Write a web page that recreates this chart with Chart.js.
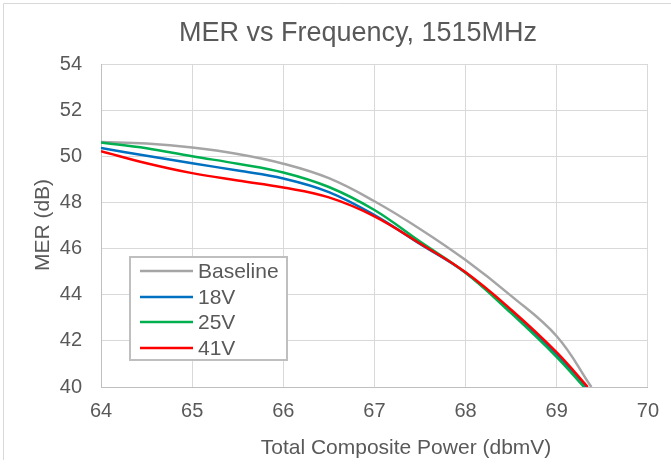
<!DOCTYPE html>
<html>
<head>
<meta charset="utf-8">
<script src="https://cdn.jsdelivr.net/npm/chart.js@4.4.1/dist/chart.umd.min.js"></script>
<style>
  html, body { margin: 0; padding: 0; background: #fff; }
  #wrap { width: 671px; height: 464px; position: relative; }
</style>
</head>
<body>
<div id="wrap"><canvas id="merChart"></canvas></div>
<script>
// Series
const seriesLabels = ['Baseline', '18V', '25V', '41V'];
const seriesColors = ['#A5A5A5', '#0070C0', '#00B050', '#FF0000'];

const baselineX = [64, 64.5, 65, 65.5, 66, 66.5, 67, 67.5, 68, 68.5, 69, 69.38];
const baselineY = [50.62, 50.55, 50.38, 50.1, 49.68, 49.05, 48.05, 46.85, 45.5, 43.95, 42.2, 40];

const v18X = [64, 64.5, 65, 65.5, 66, 66.5, 67, 67.5, 68, 68.5, 69, 69.32];
const v18Y = [50.36, 50.02, 49.7, 49.38, 49.04, 48.45, 47.45, 46.2, 44.95, 43.25, 41.4, 40];

const v25X = [64, 64.5, 65, 65.5, 66, 66.5, 67, 67.5, 68, 68.5, 69, 69.3];
const v25Y = [50.6, 50.35, 50.0, 49.68, 49.3, 48.67, 47.67, 46.3, 44.95, 43.2, 41.3, 40];

const v41X = [64, 64.5, 65, 65.5, 66, 66.5, 67, 67.5, 68, 68.5, 69, 69.34];
const v41Y = [50.22, 49.7, 49.27, 48.95, 48.65, 48.22, 47.4, 46.22, 44.97, 43.35, 41.5, 40];

const xTicks = [64, 65, 66, 67, 68, 69, 70];
const yTicks = [40, 42, 44, 46, 48, 50, 52, 54];

const textColor = '#595959';
const fontFamily = '"Liberation Sans", Arial, sans-serif';

function toPoints(xs, ys) {
  return xs.map((x, i) => ({ x: x, y: ys[i] }));
}

const allX = [baselineX, v18X, v25X, v41X];
const allY = [baselineY, v18Y, v25Y, v41Y];

const datasets = seriesLabels.map((label, i) => ({
  label: label,
  data: toPoints(allX[i], allY[i]),
  borderColor: seriesColors[i],
  backgroundColor: seriesColors[i],
  borderWidth: 2.5,
  pointRadius: 0,
  showLine: true,
  tension: 0.4,
  order: seriesLabels.length - i
}));

// titles, frame and in-plot legend
const decorPlugin = {
  id: 'decor',
  afterDraw(chart) {
    const ctx = chart.ctx;
    ctx.save();

    // outer frame (top + left visible)
    ctx.strokeStyle = '#D9D9D9';
    ctx.lineWidth = 1;
    ctx.beginPath();
    ctx.moveTo(3.5, 460);
    ctx.lineTo(3.5, 3.5);
    ctx.lineTo(671, 3.5);
    ctx.stroke();

    ctx.fillStyle = textColor;
    ctx.textAlign = 'center';
    ctx.textBaseline = 'middle';

    ctx.font = '27px ' + fontFamily;
    ctx.fillText('MER vs Frequency, 1515MHz', 358, 34);

    ctx.font = '21px ' + fontFamily;
    ctx.fillText('Total Composite Power (dbmV)', 406, 448);

    ctx.save();
    ctx.translate(43, 225);
    ctx.rotate(-Math.PI / 2);
    ctx.fillText('MER (dB)', 0, 0);
    ctx.restore();

    // legend box
    ctx.fillStyle = '#fff';
    ctx.fillRect(130, 257, 157, 103);
    ctx.strokeStyle = '#BFBFBF';
    ctx.lineWidth = 2;
    ctx.strokeRect(130, 257, 157, 103);

    const rowY = [271, 297, 322, 348];
    ctx.textAlign = 'left';
    ctx.font = '21px ' + fontFamily;
    seriesLabels.forEach((label, i) => {
      ctx.strokeStyle = seriesColors[i];
      ctx.lineWidth = 2.5;
      ctx.beginPath();
      ctx.moveTo(140, rowY[i]);
      ctx.lineTo(193, rowY[i]);
      ctx.stroke();
      ctx.fillStyle = textColor;
      ctx.fillText(label, 198, rowY[i] + 1);
    });

    ctx.restore();
  }
};

const ctx = document.getElementById('merChart').getContext('2d');

new Chart(ctx, {
  type: 'scatter',
  data: { datasets: datasets },
  options: {
    responsive: true,
    maintainAspectRatio: false,
    animation: false,
    layout: { padding: { top: 64, right: 19, bottom: 0, left: 0 } },
    plugins: {
      legend: { display: false },
      title: { display: false },
      tooltip: { enabled: false }
    },
    scales: {
      x: {
        type: 'linear',
        min: 64,
        max: 70,
        afterBuildTicks: (scale) => { scale.ticks = xTicks.map(v => ({ value: v })); },
        afterFit: (scale) => { scale.height = 77; },
        ticks: {
          color: textColor,
          font: { family: fontFamily, size: 20 },
          padding: 12
        },
        grid: { color: '#D9D9D9', lineWidth: 1, drawTicks: false },
        border: { color: '#BFBFBF', width: 1 }
      },
      y: {
        type: 'linear',
        min: 40,
        max: 54,
        afterBuildTicks: (scale) => { scale.ticks = yTicks.map(v => ({ value: v })); },
        afterFit: (scale) => { scale.width = 101; },
        ticks: {
          color: textColor,
          font: { family: fontFamily, size: 20 },
          padding: 19
        },
        grid: { color: '#D9D9D9', lineWidth: 1, drawTicks: false },
        border: { color: '#BFBFBF', width: 1 }
      }
    }
  },
  plugins: [decorPlugin]
});
</script>
</body>
</html>
